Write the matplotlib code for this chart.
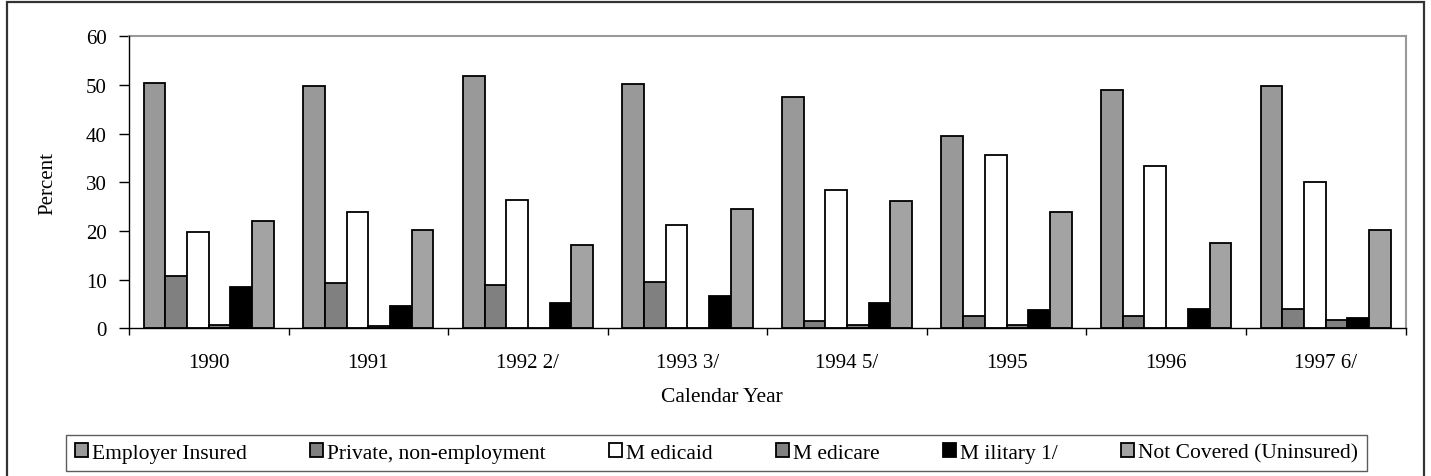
import matplotlib
matplotlib.use("Agg")
import matplotlib.pyplot as plt
import matplotlib.patches as mpatches
import numpy as np

years = ["1990", "1991", "1992 2/", "1993 3/", "1994 5/", "1995", "1996", "1997 6/"]
series_names = ["Employer Insured", "Private, non-employment", "M edicaid",
                "M edicare", "M ilitary 1/", "Not Covered (Uninsured)"]
employer = [50.4, 49.8, 51.8, 50.2, 47.5, 39.6, 49.0, 49.8]
private = [10.7, 9.3, 8.8, 9.6, 1.4, 2.6, 2.6, 4.0]
medicaid = [19.8, 24.0, 26.4, 21.2, 28.4, 35.7, 33.4, 30.1]
medicare = [0.7, 0.4, 0.0, 0.0, 0.7, 0.75, 0.0, 1.7]
military = [8.4, 4.5, 5.1, 6.7, 5.1, 3.8, 4.0, 2.1]
uninsured = [22.1, 20.1, 17.2, 24.5, 26.1, 23.8, 17.5, 20.1]

series = [employer, private, medicaid, medicare, military, uninsured]
colors = ["#999999", "#808080", "#ffffff", "#808080", "#000000", "#a3a3a3"]

plt.rcParams['font.family'] = ['Liberation Serif', 'DejaVu Serif']

W, H = 1431, 477
fig = plt.figure(figsize=(W / 100, H / 100), dpi=100)
ax = fig.add_axes([129 / W, 1 - 329.3 / H, (1405.5 - 129) / W, (329.3 - 37.3) / H])

x = np.arange(len(years))
w = 0.136
handles = []
for j, (vals, c, name) in enumerate(zip(series, colors, series_names)):
    b = ax.bar(x + (j - 2.5) * w, vals, width=w, color=c, edgecolor="black",
               linewidth=1.3, label=name, zorder=3)
    handles.append(b)

ax.set_xlim(-0.5, len(years) - 0.5)
ax.set_ylim(0, 60)
ax.set_yticks(range(0, 61, 10))
ax.tick_params(axis='y', direction='out', length=7.2, width=1, labelsize=15, pad=9)
ax.set_xticks(x)
ax.set_xticklabels(years, fontsize=15)
ax.set_xticks(np.arange(-0.5, len(years), 1.0), minor=True)
ax.tick_params(axis='x', which='major', length=0, pad=18)
ax.tick_params(axis='x', which='minor', direction='out', length=5, width=1)
for s in ['top', 'right']:
    ax.spines[s].set_color('#999999')
    ax.spines[s].set_linewidth(1.5)
for s in ['left', 'bottom']:
    ax.spines[s].set_color('black')
    ax.spines[s].set_linewidth(1.0)
    ax.spines[s].set_zorder(4)

ax.set_ylabel("Percent", fontsize=15)
ax.yaxis.set_label_coords((57 - 129) / (1405.5 - 129), 0.5)
fig.text(722 / W, 1 - 398 / H, "Calendar Year", fontsize=15.5, ha='center', va='center')

target_w = 1367 - 66


def make_legend(cs):
    lg = fig.legend(handles=handles, labels=series_names, loc='center',
                    bbox_to_anchor=(716.5 / W, 1 - 454 / H),
                    ncol=6, fontsize=15.5, frameon=True, fancybox=False,
                    handlelength=0.62, handleheight=0.6, handletextpad=0.2,
                    columnspacing=cs, borderpad=0.4, borderaxespad=0)
    lg.get_frame().set_edgecolor('#333333')
    lg.get_frame().set_linewidth(1.0)
    return lg


cs = 1.0
leg = make_legend(cs)
fig.canvas.draw()
cur_w = leg.get_window_extent().width
fs_px = 15.5 * 100 / 72
cs = cs + (target_w - cur_w) / 5 / fs_px
leg.remove()
leg = make_legend(cs)

frame = mpatches.Rectangle((7 / W, -0.1), (1424 - 7) / W, (1 - 3 / H) + 0.1,
                           transform=fig.transFigure, fill=False, edgecolor='#333333',
                           linewidth=1.6, clip_on=False)
fig.patches.append(frame)

fig.savefig("out.png", dpi=100)
